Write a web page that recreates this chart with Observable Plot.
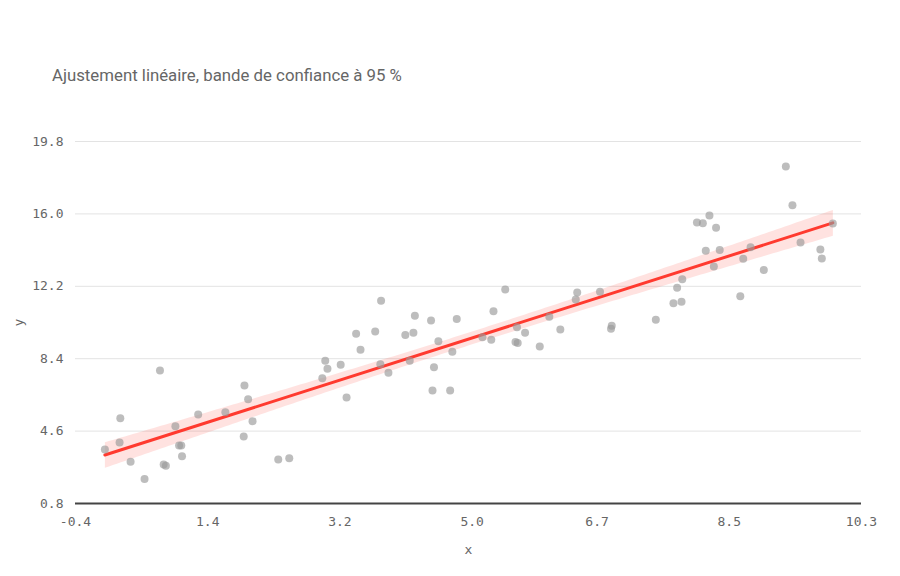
<!DOCTYPE html>
<html>
<head>
<meta charset="utf-8">
<script src="https://cdn.jsdelivr.net/npm/d3@7"></script>
<script src="https://cdn.jsdelivr.net/npm/@observablehq/plot@0.6"></script>
<style>
  body { margin: 0; background: #fff; }
  #title { height: 100px; box-sizing: border-box; padding: 65px 0 0 52px; font-family: Roboto, sans-serif; font-size: 16.8px; color: #666; }
</style>
</head>
<body>
<div id="title">Ajustement linéaire, bande de confiance à 95 %</div>
<div id="chart"></div>
<script>
const xs = [0.00,0.20,0.21,0.35,0.54,0.75,0.80,0.83,0.96,1.01,1.04,1.05,1.27,1.64,1.89,1.90,1.95,2.01,2.36,2.51,
  2.96,3.00,3.03,3.21,3.29,3.42,3.48,3.68,3.76,3.75,3.86,4.09,4.15,4.20,4.22,4.44,4.46,4.48,4.54,4.70,
  4.73,4.79,5.14,5.26,5.29,5.45,5.59,5.62,5.61,5.72,5.92,6.05,6.20,6.41,6.43,6.74,6.89,6.90,7.50,7.74,
  7.79,7.85,7.86,8.06,8.14,8.23,8.18,8.32,8.37,8.29,8.65,8.69,8.79,8.97,9.27,9.36,9.47,9.74,9.76,9.91];
const ys = [3.63,4.00,5.28,2.99,2.08,7.78,2.85,2.78,4.86,3.84,3.84,3.28,5.47,5.59,4.32,6.99,6.27,5.12,3.11,3.18,
  7.38,8.29,7.87,8.08,6.36,9.71,8.87,9.83,11.44,8.11,7.66,9.65,8.29,9.76,10.65,10.41,6.73,7.95,9.32,6.73,
  8.76,10.49,9.53,9.39,10.89,12.03,9.27,9.23,10.05,9.76,9.04,10.60,9.93,11.51,11.88,11.91,9.97,10.13,10.44,11.31,
  12.12,11.39,12.57,15.55,15.51,15.92,14.06,15.27,14.10,13.24,11.68,13.64,14.25,13.05,18.49,16.46,14.50,14.13,13.66,15.50];
const xTicks = [-0.4, 1.4, 3.2, 5.0, 6.7, 8.5, 10.3];
const yTicks = [0.8, 4.6, 8.4, 12.2, 16.0, 19.8];

const data = xs.map((x, i) => ({x, y: ys[i]}));
const mono = "'DejaVu Sans Mono', monospace";

const chart = Plot.plot({
  width: 900,
  height: 476,
  marginTop: 41,
  marginBottom: 73,
  marginLeft: 75,
  marginRight: 39,
  style: {fontFamily: "Roboto, sans-serif", fontSize: "14px", color: "#111", background: "#fff"},
  x: {domain: [-0.4, 10.3]},
  y: {domain: [0.8, 19.8]},
  marks: [
    Plot.gridY(yTicks, {stroke: "#e3e3e3", strokeOpacity: 1, strokeWidth: 1}),
    Plot.axisY(yTicks, {tickSize: 0, tickPadding: 12, tickFormat: d => d.toFixed(1), fontFamily: mono, fontSize: 13, fill: "#666",
      label: "y", labelAnchor: "center", labelArrow: "none", labelOffset: 62}),
    Plot.axisX(xTicks, {tickSize: 0, tickPadding: 13, tickFormat: d => d.toFixed(1), fontFamily: mono, fontSize: 13, fill: "#666",
      label: "x", labelAnchor: "center", labelArrow: "none", labelOffset: 50}),
    Plot.linearRegressionY(data, {x: "x", y: "y", stroke: "#ff3a2f", strokeWidth: 3, fill: "#ff3a2f", fillOpacity: 0.15}),
    Plot.dot(data, {x: "x", y: "y", r: 4, fill: "#999", fillOpacity: 0.65, stroke: "none"}),
    Plot.ruleY([0.8], {stroke: "#444", strokeWidth: 2})
  ]
});
document.getElementById("chart").appendChild(chart);
</script>
</body>
</html>
